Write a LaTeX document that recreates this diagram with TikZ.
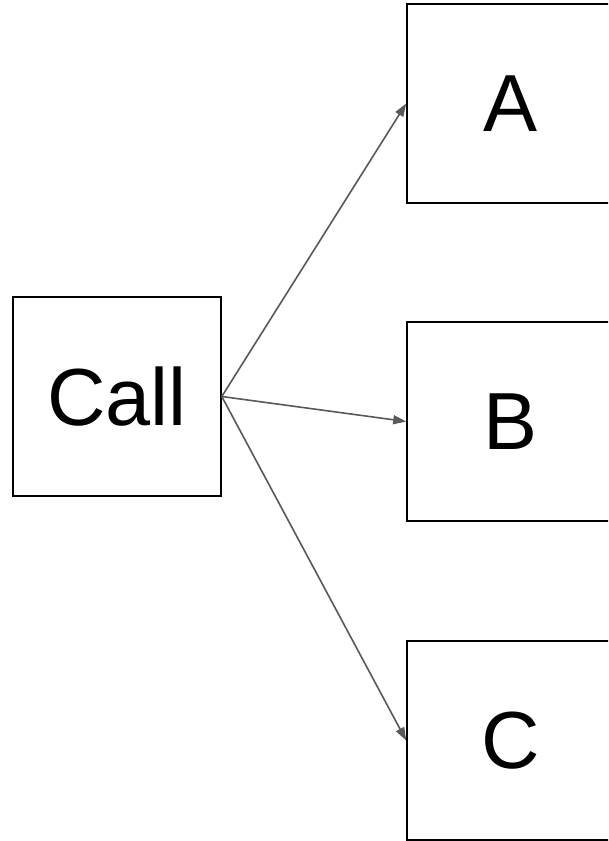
\documentclass[tikz,border=0pt]{standalone}
\usepackage{fontspec}
\setmainfont{Liberation Sans}
\usetikzlibrary{arrows.meta}
\definecolor{conngray}{HTML}{595959}
\begin{document}
\begin{tikzpicture}[x=1pt,y=-1pt,
  box/.style={draw=black,line width=1.6pt,minimum width=208pt,minimum height=199pt,inner sep=0pt,font=\fontsize{81}{81}\selectfont},
  conn/.style={draw=conngray,line width=1.6pt,-{Triangle[length=13pt,width=9pt]}}]
\useasboundingbox (0,0) rectangle (608,841);
\clip (0,0) rectangle (608,841);
\fill[white] (0,0) rectangle (608,841);
\node[box] (call) at (117,396.5) {Call};
\node[box] (a) at (511,103.5) {A};
\node[box] (b) at (511,421.5) {B};
\node[box] (c) at (511,740.5) {C};
\draw[conn] (call.east) -- (a.west);
\draw[conn] (call.east) -- (b.west);
\draw[conn] (call.east) -- (c.west);
\end{tikzpicture}
\end{document}
